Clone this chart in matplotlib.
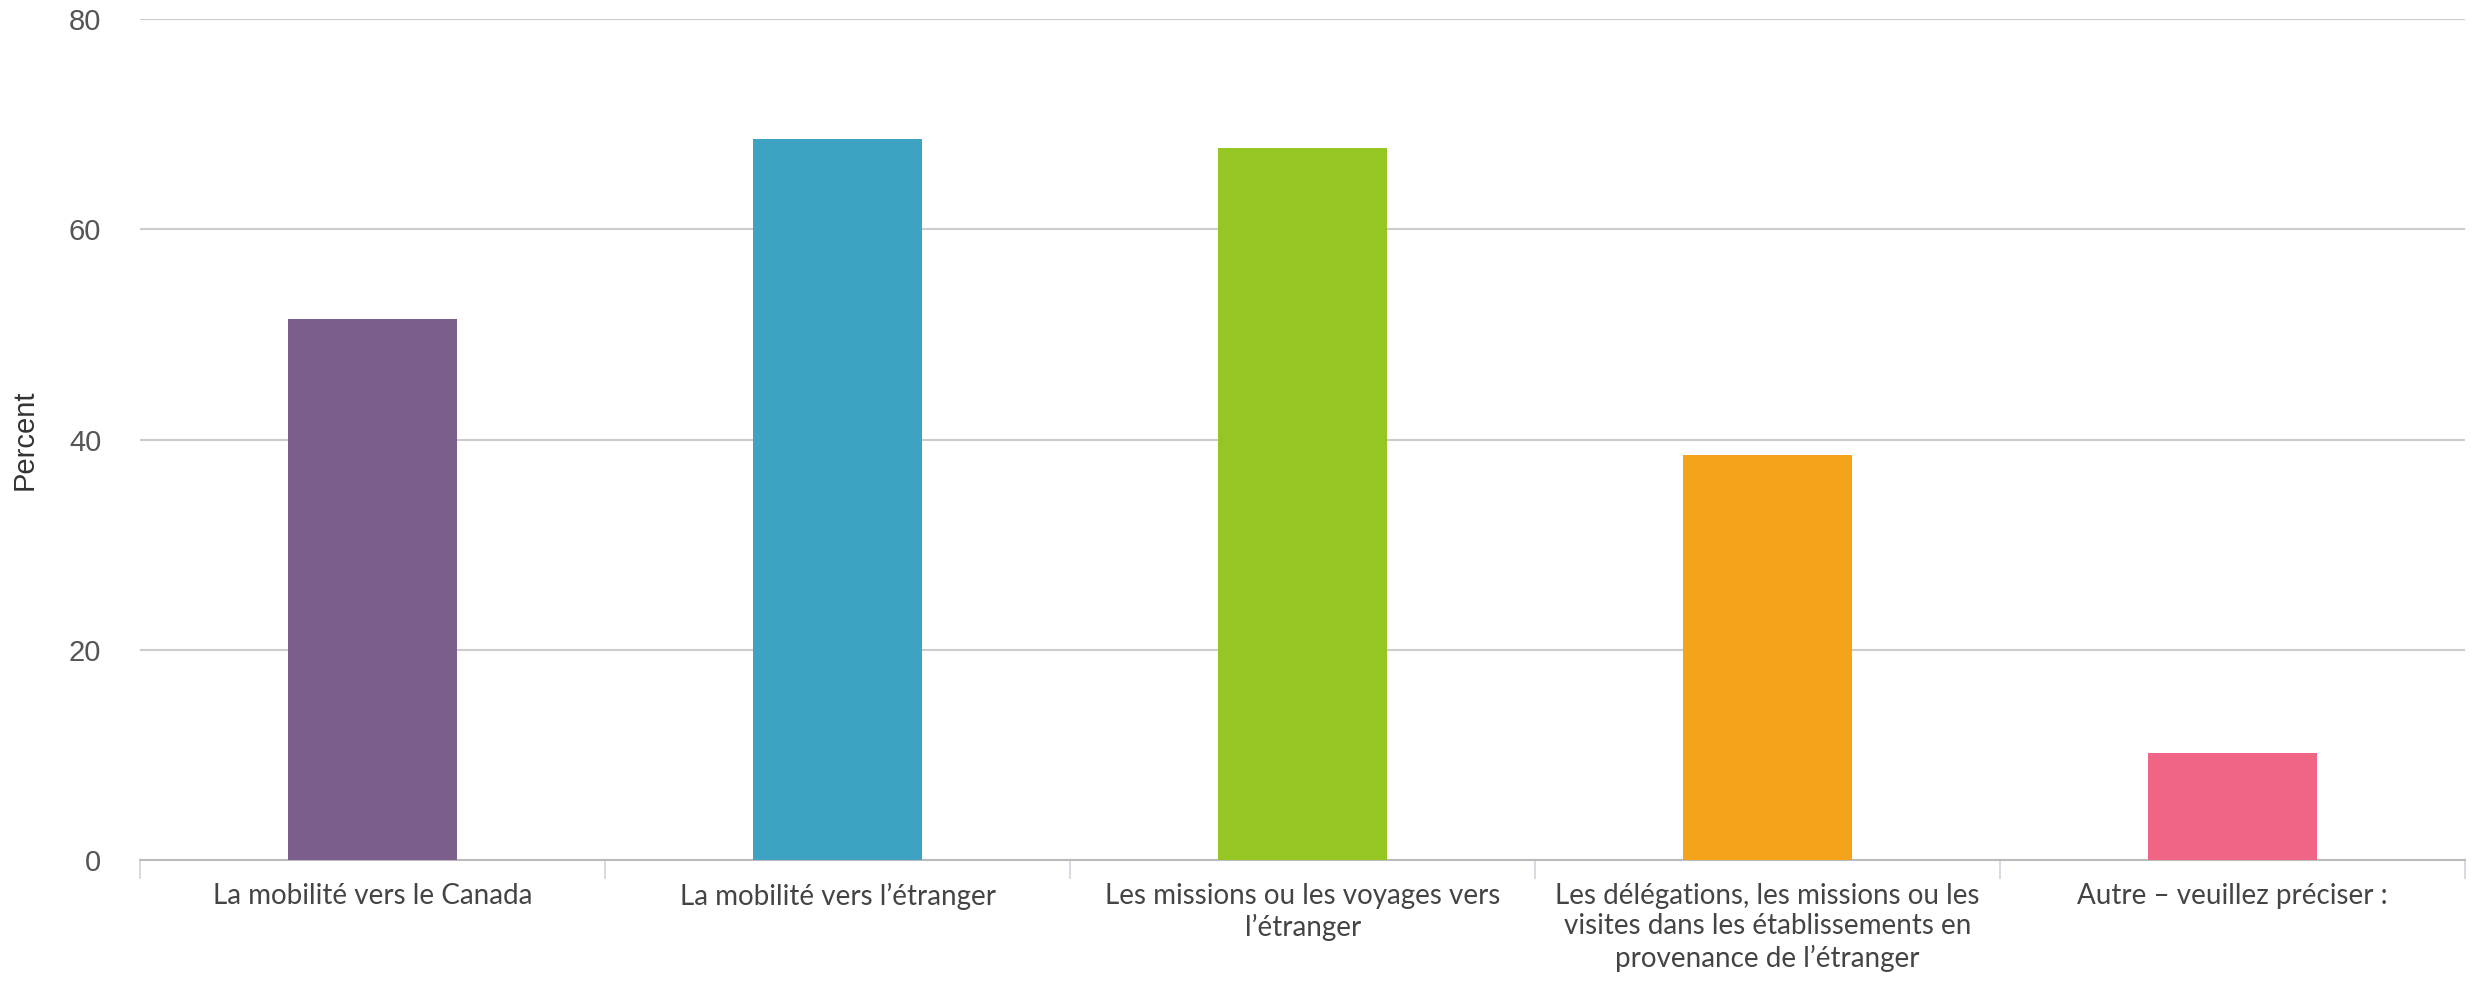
#!/usr/bin/env python3
import numpy as np
import matplotlib
matplotlib.use("Agg")
import matplotlib.pyplot as plt

categories = ["La mobilité vers le Canada",
              "La mobilité vers l’étranger",
              "Les missions ou les voyages vers\nl’étranger",
              "Les délégations, les missions ou les\nvisites dans les établissements en\nprovenance de l’étranger",
              "Autre – veuillez préciser :"]
percent = [51.5, 68.6, 67.7, 38.5, 10.2]
colors = ["#7B5E8C", "#3EA3C2", "#95C623", "#F5A31B", "#F06585"]
yticks = [0, 20, 40, 60, 80]

fig = plt.figure(figsize=(24.73, 9.85), dpi=100)
ax = fig.add_axes([0.0567, 0.1264, 0.9401, 0.8546])

x = np.arange(len(categories))
ax.bar(x, percent, 0.363, color=colors, zorder=3)

ax.set_xlim(-0.5, len(categories) - 0.5)
ax.set_ylim(0, 80)
ax.set_yticks(yticks)
ax.set_yticklabels([str(v) for v in yticks], fontfamily="Liberation Sans",
                   fontsize=21, color="#555555")
ax.tick_params(axis="y", length=0, pad=28)

ax.set_xticks(x)
ax.set_xticklabels(categories, fontfamily="Lato", fontsize=20,
                   color="#444444", linespacing=1.22, va="top")
ax.tick_params(axis="x", which="major", length=0, pad=16)
ax.set_xticks(np.arange(len(categories) + 1) - 0.5, minor=True)
ax.tick_params(axis="x", which="minor", length=14, width=1.2, color="#cfd3dc")

ax.grid(axis="y", color="#cccccc", linewidth=1.5, zorder=0)
for s in ["top", "right", "left"]:
    ax.spines[s].set_visible(False)
ax.spines["bottom"].set_color("#bbbbbb")
ax.spines["bottom"].set_linewidth(1.5)

ax.set_ylabel("Percent", fontfamily="Liberation Sans", fontsize=21,
              color="#333333", labelpad=22)

fig.savefig("out.png", dpi=100, facecolor="white")
